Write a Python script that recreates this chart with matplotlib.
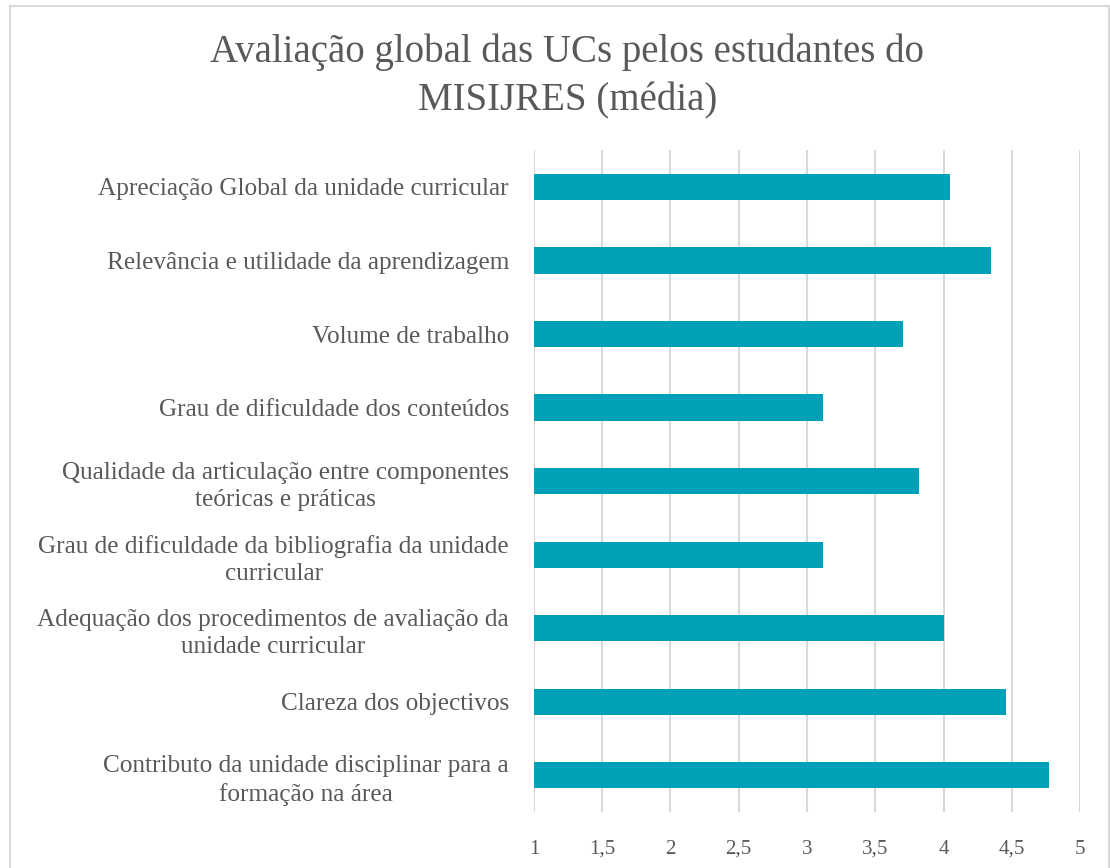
import matplotlib.pyplot as plt
from matplotlib.patches import Rectangle

# data
labels = [
    "Apreciação Global da unidade curricular",
    "Relevância e utilidade da aprendizagem",
    "Volume de trabalho",
    "Grau de dificuldade dos conteúdos",
    "Qualidade da articulação entre componentes\nteóricas e práticas",
    "Grau de dificuldade da bibliografia da unidade\ncurricular",
    "Adequação dos procedimentos de avaliação da\nunidade curricular",
    "Clareza dos objectivos",
    "Contributo da unidade disciplinar para a\nformação na área",
]
values = [4.05, 4.35, 3.70, 3.12, 3.82, 3.12, 4.00, 4.46, 4.77]
ticks = [1, 1.5, 2, 2.5, 3, 3.5, 4, 4.5, 5]
tick_labels = ["1", "1,5", "2", "2,5", "3", "3,5", "4", "4,5", "5"]

BAR_COLOR = "#00A1B8"
TEXT_COLOR = "#595959"
GRID_COLOR = "#D9D9D9"

plt.rcParams['font.family'] = ['Liberation Serif', 'DejaVu Serif']

fig = plt.figure(figsize=(11.1, 8.68), dpi=100)
ax = fig.add_axes([0.481, 0.0645, 0.492, 0.7625])

ypos = list(range(len(labels)))
ax.barh(ypos, [v - 1 for v in values], left=1, height=0.355, color=BAR_COLOR, zorder=3)

ax.set_xlim(1, 5)
ax.set_ylim(len(labels) - 0.5, -0.5)
ax.set_xticks(ticks)
ax.set_xticklabels(tick_labels)
ax.set_yticks(ypos)
ax.set_yticklabels(labels, multialignment='center', linespacing=1.3)
ax.tick_params(axis='x', length=0, pad=20, labelsize=15, labelcolor=TEXT_COLOR)
ax.tick_params(axis='y', length=0, pad=18, labelsize=18.2, labelcolor=TEXT_COLOR)
ax.xaxis.grid(True, color=GRID_COLOR, linewidth=1.5, zorder=0)
for s in ax.spines.values():
    s.set_visible(False)

fig.text(0.511, 0.912, "Avaliação global das UCs pelos estudantes do\nMISIJRES (média)",
         ha='center', va='center', fontsize=28, color=TEXT_COLOR, linespacing=1.4)

# light chart border
fig.patches.append(Rectangle((0.009, -0.01), 0.99, 1.003, transform=fig.transFigure,
                             fill=False, edgecolor=GRID_COLOR, linewidth=1.5))

fig.savefig("out.png", dpi=100)
